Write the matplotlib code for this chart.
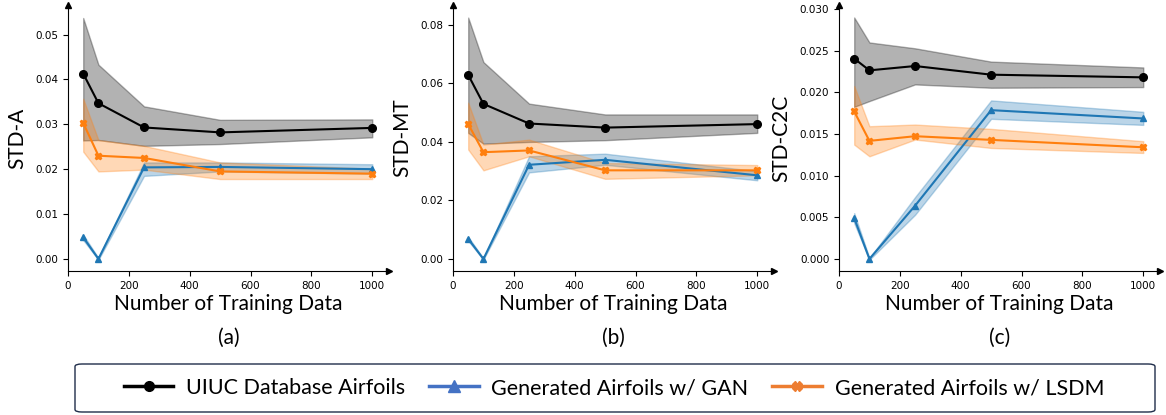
import matplotlib.pyplot as plt
from matplotlib.lines import Line2D
from matplotlib.patches import FancyBboxPatch

n_train = [50, 100, 250, 500, 1000]

# (a) STD-A
a_uiuc = [0.0413, 0.0347, 0.0293, 0.0282, 0.0292]
a_uiuc_lo = [0.0264, 0.0265, 0.0252, 0.0256, 0.0271]
a_uiuc_hi = [0.0537, 0.0433, 0.0340, 0.0310, 0.0311]
a_gan = [0.0048, 0.0, 0.0204, 0.0205, 0.0200]
a_gan_lo = [0.0042, -0.0002, 0.0185, 0.0195, 0.0190]
a_gan_hi = [0.0054, 0.0002, 0.0215, 0.0215, 0.0211]
a_lsdm = [0.0303, 0.0230, 0.0225, 0.0195, 0.0190]
a_lsdm_lo = [0.0239, 0.0195, 0.0199, 0.0178, 0.0178]
a_lsdm_hi = [0.0357, 0.0265, 0.0252, 0.0215, 0.0201]

# (b) STD-MT
b_uiuc = [0.0629, 0.0530, 0.0463, 0.0449, 0.0461]
b_uiuc_lo = [0.0431, 0.0394, 0.0400, 0.0406, 0.0431]
b_uiuc_hi = [0.0825, 0.0673, 0.0531, 0.0494, 0.0494]
b_gan = [0.0069, 0.0, 0.0322, 0.0339, 0.0286]
b_gan_lo = [0.0062, -0.0002, 0.0296, 0.0322, 0.0269]
b_gan_hi = [0.0076, 0.0002, 0.0351, 0.0360, 0.0300]
b_lsdm = [0.0461, 0.0365, 0.0371, 0.0303, 0.0303]
b_lsdm_lo = [0.0374, 0.0303, 0.0351, 0.0274, 0.0286]
b_lsdm_hi = [0.0534, 0.0391, 0.0408, 0.0328, 0.0321]

# (c) STD-C2C
c_uiuc = [0.02406, 0.02265, 0.02317, 0.02213, 0.02181]
c_uiuc_lo = [0.01827, 0.01896, 0.02096, 0.02056, 0.02064]
c_uiuc_hi = [0.0290, 0.0260, 0.0253, 0.0237, 0.0230]
c_gan = [0.0049, 0.0, 0.00639, 0.01787, 0.01687]
c_gan_lo = [0.0043, -0.0001, 0.0053, 0.01683, 0.0161]
c_gan_hi = [0.0055, 0.0001, 0.00743, 0.01904, 0.01767]
c_lsdm = [0.01771, 0.01418, 0.01474, 0.0143, 0.01341]
c_lsdm_lo = [0.01373, 0.01233, 0.01434, 0.01333, 0.01273]
c_lsdm_hi = [0.02076, 0.01594, 0.01614, 0.01562, 0.01414]

panels = [
    ('STD-A', '(a)', (-0.0027, 0.0566), [0.0, 0.01, 0.02, 0.03, 0.04, 0.05], '%.2f',
     (a_uiuc, a_uiuc_lo, a_uiuc_hi), (a_gan, a_gan_lo, a_gan_hi), (a_lsdm, a_lsdm_lo, a_lsdm_hi)),
    ('STD-MT', '(b)', (-0.0041, 0.0868), [0.0, 0.02, 0.04, 0.06, 0.08], '%.2f',
     (b_uiuc, b_uiuc_lo, b_uiuc_hi), (b_gan, b_gan_lo, b_gan_hi), (b_lsdm, b_lsdm_lo, b_lsdm_hi)),
    ('STD-C2C', '(c)', (-0.00145, 0.0305), [0.0, 0.005, 0.01, 0.015, 0.02, 0.025, 0.03], '%.3f',
     (c_uiuc, c_uiuc_lo, c_uiuc_hi), (c_gan, c_gan_lo, c_gan_hi), (c_lsdm, c_lsdm_lo, c_lsdm_hi)),
]

lefts = [68 / 1166, 453 / 1166, 839 / 1166]
label_font = 'Lato'

fig = plt.figure(figsize=(11.66, 4.15), dpi=100)

for left, (ylab, tag, ylim, yticks, fmt, uiuc, gan, lsdm) in zip(lefts, panels):
    ax = fig.add_axes([left, 144 / 415, 321 / 1166, 266 / 415])
    for (mean, lo, hi), col, mk, ms in [(uiuc, 'black', 'o', 5.5), (gan, 'tab:blue', '^', 5), (lsdm, 'tab:orange', 'X', 5)]:
        ax.fill_between(n_train, lo, hi, color=col, alpha=0.3)
        ax.plot(n_train, mean, color=col, marker=mk, markersize=ms, linewidth=1.5)
    ax.set_xlim(0, 1055)
    ax.set_ylim(*ylim)
    ax.set_xticks([0, 200, 400, 600, 800, 1000])
    ax.set_yticks(yticks)
    ax.set_yticklabels([fmt % t for t in yticks])
    ax.tick_params(labelsize=7.5)
    ax.spines['top'].set_visible(False)
    ax.spines['right'].set_visible(False)
    ax.plot(1, 0, '>k', markersize=5, transform=ax.transAxes, clip_on=False)
    ax.plot(0, 1, '^k', markersize=5, transform=ax.transAxes, clip_on=False)
    ax.set_ylabel(ylab, fontsize=15, family=label_font, labelpad=6)
    ax.set_xlabel('Number of Training Data', fontsize=15, family=label_font, labelpad=2.5)
    ax.text(0.5, -0.25, tag, transform=ax.transAxes, ha='center', va='center', fontsize=15, family=label_font)

# legend box
box = FancyBboxPatch((75 / 1166, 3 / 415), 1080 / 1166, 48 / 415, transform=fig.transFigure,
                     boxstyle='round,pad=0,rounding_size=0.006', facecolor='white',
                     edgecolor='#1f2d4a', linewidth=1.0)
fig.patches.append(box)

handles = [
    Line2D([], [], color='black', marker='o', markersize=7, linewidth=2.5),
    Line2D([], [], color='#4472C4', marker='^', markersize=8, linewidth=2.5),
    Line2D([], [], color='#ED7D31', marker='X', markersize=7, linewidth=2.5),
]
names = ['UIUC Database Airfoils', 'Generated Airfoils w/ GAN', 'Generated Airfoils w/ LSDM']
leg = fig.legend(handles, names, loc='center', bbox_to_anchor=(614 / 1166, 27 / 415),
                 ncol=3, frameon=False, prop={'family': label_font, 'size': 15.5},
                 handlelength=2.3, handletextpad=0.6, columnspacing=1.1)

fig.savefig('out.png', dpi=100)
